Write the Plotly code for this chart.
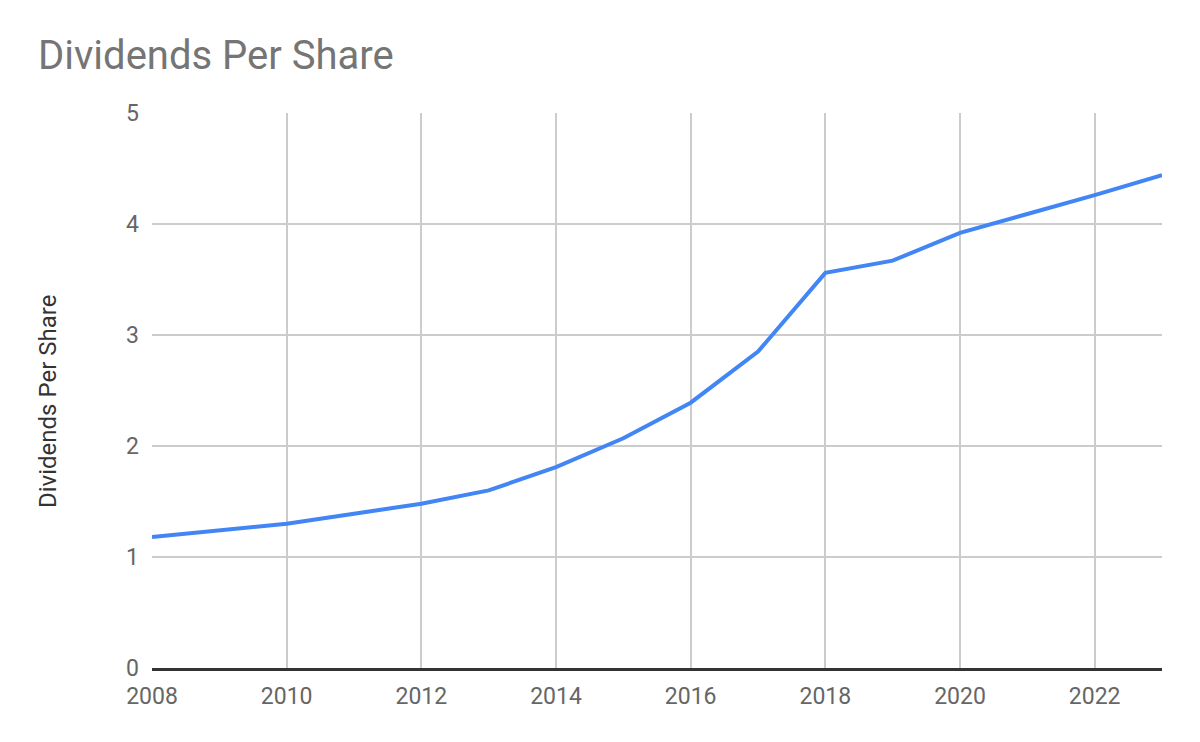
import plotly.graph_objects as go

years = [2008, 2009, 2010, 2011, 2012, 2013, 2014, 2015, 2016, 2017, 2018, 2019, 2020, 2021, 2022, 2023]
dividends = [1.18, 1.24, 1.30, 1.39, 1.48, 1.60, 1.81, 2.07, 2.39, 2.85, 3.56, 3.67, 3.92, 4.09, 4.26, 4.44]
x_ticks = [2008, 2010, 2012, 2014, 2016, 2018, 2020, 2022]
y_ticks = [0, 1, 2, 3, 4, 5]

fig = go.Figure()
fig.add_trace(go.Scatter(
    x=years, y=dividends, mode="lines",
    line=dict(color="#4285F4", width=4),
    name="Dividends Per Share",
))

# page body has an 8px default margin, so the figure is 8px smaller and margins shifted
fig.update_layout(
    width=1192, height=734,
    paper_bgcolor="white", plot_bgcolor="white",
    margin=dict(l=144, r=38, t=105, b=74),
    font=dict(family="Roboto", color="#666666"),
    showlegend=False,
    title=dict(text="Dividends Per Share", x=30/1192, xanchor="left",
               y=1 - 47/734, yanchor="middle",
               font=dict(size=40, color="#757575", family="Roboto")),
    xaxis=dict(
        range=[2008, 2023], tickvals=x_ticks, ticktext=[str(v) for v in x_ticks],
        showgrid=True, gridcolor="#cccccc", gridwidth=2,
        tickfont=dict(size=23, color="#666666"),
        ticks="", ticklabelstandoff=5, zeroline=False,
        showline=True, linecolor="#333333", linewidth=3,
    ),
    yaxis=dict(
        range=[0, 5], tickvals=y_ticks,
        showgrid=True, gridcolor="#cccccc", gridwidth=2,
        tickfont=dict(size=23, color="#666666"),
        ticks="", ticklabelstandoff=12, zeroline=False,
    ),
    annotations=[dict(
        text="Dividends Per Share", textangle=-90,
        xref="paper", yref="paper",
        x=(48 - 152) / 1010, y=(668 - 402) / 555,
        xanchor="center", yanchor="middle", showarrow=False,
        font=dict(size=24, color="#333333", family="Roboto"),
    )],
)

fig.write_html("out.html")
